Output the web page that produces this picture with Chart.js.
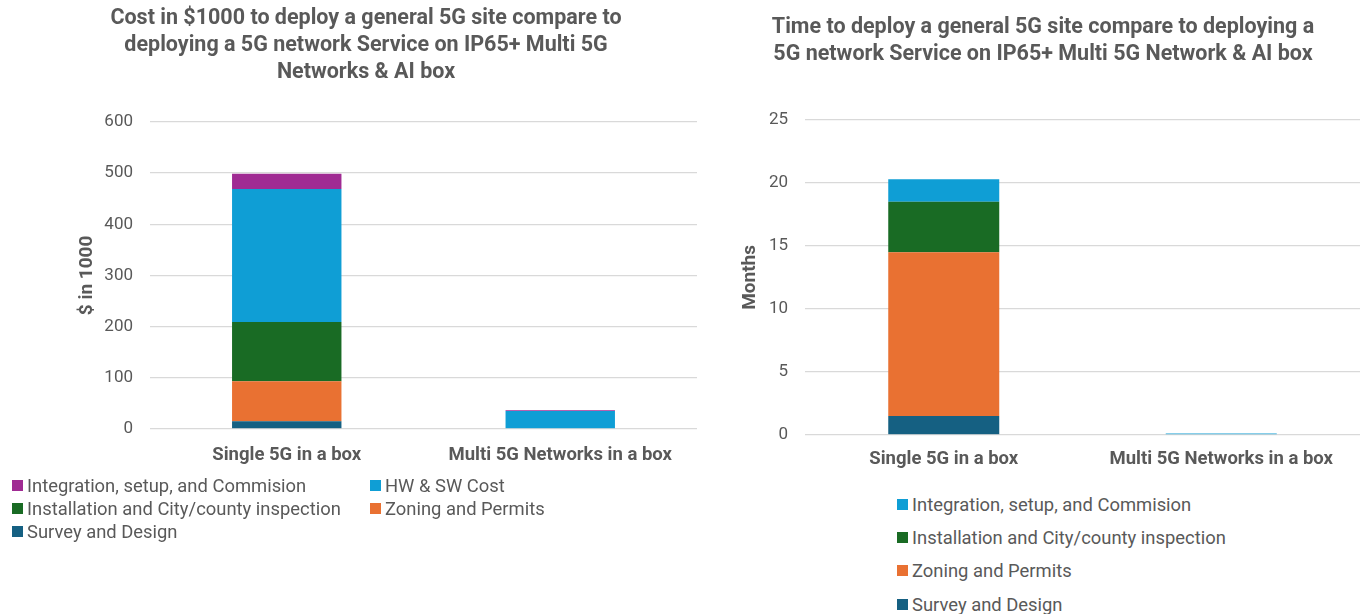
<!DOCTYPE html>
<html>
<head>
<meta charset="utf-8">
<script src="https://cdn.jsdelivr.net/npm/chart.js@4.4.1/dist/chart.umd.min.js"></script>
<style>
  body { margin: 0; background: #fff; font-family: Roboto, sans-serif; color: #595959; }
  #wrap { position: relative; width: 1368px; height: 614px; overflow: hidden; }
  canvas { position: absolute; }
  .item { position: absolute; white-space: nowrap; display: flex; align-items: center; font-size: 18.4px; height: 23px; }
  .sw { width: 11px; height: 11px; margin-right: 4px; }
</style>
</head>
<body>
<div id="wrap">
  <canvas id="costChart" width="700" height="482" style="left:0;top:0"></canvas>
  <canvas id="timeChart" width="668" height="488" style="left:700px;top:0"></canvas>
  <div id="costLegend"></div>
  <div id="timeLegend"></div>
</div>
<script>
const categories = ["Single 5G in a box", "Multi 5G Networks in a box"];

// cost in $1000, stacked bottom -> top
const costSurvey = [15, 0];
const costZoning = [78, 0];
const costInstall = [116, 0];
const costHwSw = [260, 35];
const costIntegration = [30, 1.5];

// time in months, stacked bottom -> top
const timeSurvey = [1.5, 0];
const timeZoning = [13, 0];
const timeInstall = [4, 0];
const timeIntegration = [1.8, 0.1];

const costTitle = ["Cost in $1000 to deploy a general 5G site compare to", "deploying a 5G network Service on IP65+ Multi 5G", "Networks & AI box"];
const timeTitle = ["Time to deploy a general 5G site compare to deploying a", "5G network Service on IP65+ Multi 5G Network & AI box"];

const GREY = "#595959";
const FONT = "Roboto, sans-serif";

function barSet(label, data, color) {
  return { label, data, backgroundColor: color, borderWidth: 0, barPercentage: 0.4, categoryPercentage: 1 };
}

function drawStack(id, title, datasets, yMax, yStep, yLabel, pad, yWidth, yTitleOffset, titlePad, xPad) {
  const ctx = document.getElementById(id).getContext("2d");
  new Chart(ctx, {
    type: "bar",
    data: { labels: categories, datasets },
    options: {
      responsive: false,
      animation: false,
      devicePixelRatio: 1,
      layout: { padding: pad },
      plugins: {
        legend: { display: false },
        tooltip: { enabled: false },
        title: {
          display: true,
          text: title,
          color: GREY,
          font: { family: FONT, size: 21.5, weight: "bold", lineHeight: "27px" },
          padding: titlePad
        }
      },
      scales: {
        x: {
          stacked: true,
          grid: { display: false },
          border: { display: false },
          ticks: { color: GREY, padding: xPad, font: { family: FONT, size: 18.5, weight: "bold" } }
        },
        y: {
          stacked: true,
          min: 0,
          max: yMax,
          afterFit: s => { s.width = yWidth; },
          grid: { color: "#d9d9d9", drawTicks: false, lineWidth: 1.3 },
          border: { display: false },
          ticks: { stepSize: yStep, color: GREY, padding: 17, font: { family: FONT, size: 17 } },
          title: { display: true, text: yLabel, color: GREY, padding: { top: yTitleOffset, bottom: 0 }, font: { family: FONT, size: 19, weight: "bold" } }
        }
      }
    }
  });
}

drawStack("costChart", costTitle, [
  barSet("Survey and Design", costSurvey, "#156082"),
  barSet("Zoning and Permits", costZoning, "#e97132"),
  barSet("Installation and City/county inspection", costInstall, "#196b24"),
  barSet("HW & SW Cost", costHwSw, "#0f9ed5"),
  barSet("Integration, setup, and Commision", costIntegration, "#a02b93")
], 600, 100, "$ in 1000", { left: 35, right: 3, top: 0, bottom: 9 }, 115, 40.6, { top: 5, bottom: 36 }, 7);

drawStack("timeChart", timeTitle, [
  barSet("Survey and Design", timeSurvey, "#156082"),
  barSet("Zoning and Permits", timeZoning, "#e97132"),
  barSet("Installation and City/county inspection", timeInstall, "#196b24"),
  barSet("Integration, setup, and Commision", timeIntegration, "#0f9ed5")
], 25, 5, "Months", { left: 26, right: 8, top: 0, bottom: 13 }, 79, 12.6, { top: 14, bottom: 52 }, 5);

// legends (top of stack first, like the original)
const costLegendItems = [
  ["Integration, setup, and Commision", "#a02b93"],
  ["HW & SW Cost", "#0f9ed5"],
  ["Installation and City/county inspection", "#196b24"],
  ["Zoning and Permits", "#e97132"],
  ["Survey and Design", "#156082"]
];
const timeLegendItems = [
  ["Integration, setup, and Commision", "#0f9ed5"],
  ["Installation and City/county inspection", "#196b24"],
  ["Zoning and Permits", "#e97132"],
  ["Survey and Design", "#156082"]
];

function addItem(parent, label, color, x, y) {
  const el = document.createElement("div");
  el.className = "item";
  el.style.left = x + "px";
  el.style.top = (y - 11.5) + "px";
  el.innerHTML = `<span class="sw" style="background:${color}"></span>${label}`;
  parent.appendChild(el);
}

const costLeg = document.getElementById("costLegend");
costLegendItems.forEach((it, k) => {
  addItem(costLeg, it[0], it[1], k % 2 ? 370 : 12, 485 + 23 * Math.floor(k / 2));
});
const timeLeg = document.getElementById("timeLegend");
timeLegendItems.forEach((it, k) => {
  addItem(timeLeg, it[0], it[1], 897, 504 + 33.4 * k);
});
</script>
</body>
</html>
